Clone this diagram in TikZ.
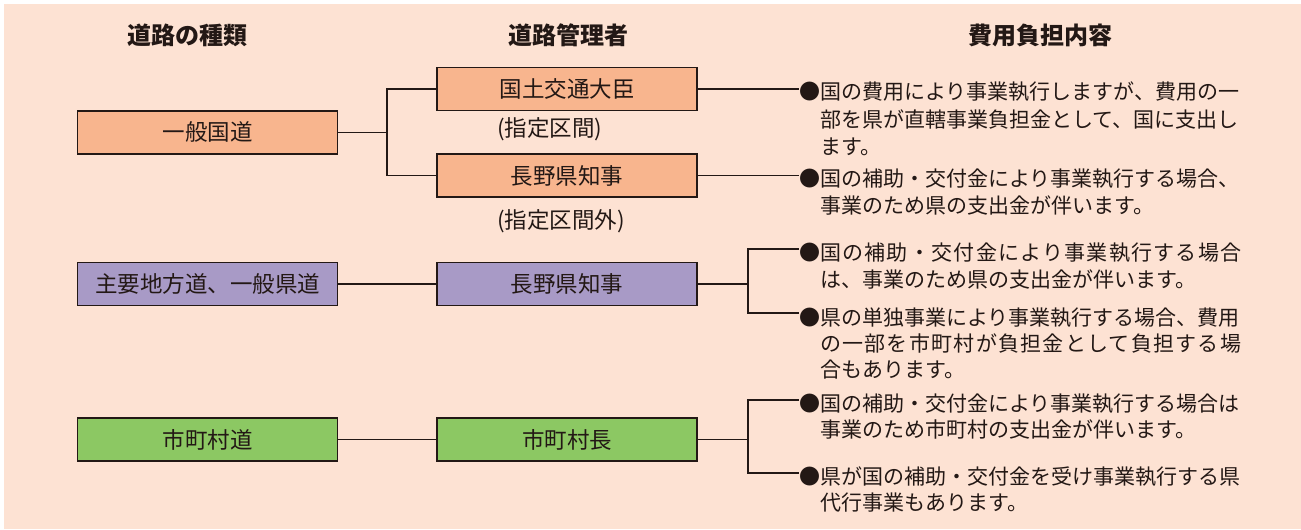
\documentclass[tikz,border=0pt]{standalone}
\usepackage{fontspec}
\setmainfont{Noto Sans CJK JP}
\newfontfamily\jpls[LetterSpace=6]{Noto Sans CJK JP}
\definecolor{bg}{RGB}{253,226,211}
\definecolor{orng}{RGB}{248,181,142}
\definecolor{purp}{RGB}{168,154,198}
\definecolor{grn}{RGB}{140,200,99}
\definecolor{ink}{RGB}{35,24,21}
\begin{document}
\begin{tikzpicture}[x=1pt,y=-1pt,
  box/.style={draw=ink, line width=1.6pt, minimum width=260pt, minimum height=43pt, inner sep=0pt, font=\fontsize{22.5}{27}\selectfont, text=ink},
  hdr/.style={font=\fontsize{24}{28}\selectfont\bfseries, text=ink, inner sep=0pt, anchor=base},
  ln/.style={font=\fontsize{21}{27}\selectfont, text=ink, inner sep=0pt, anchor=base west},
  note/.style={font=\fontsize{22.5}{27}\selectfont, text=ink, inner sep=0pt, anchor=base west},
  wire/.style={draw=ink, line width=1.5pt}]
\useasboundingbox (0,0) rectangle (1301,530);
\fill[bg] (4,4) rectangle (1301,529);
% headers
\node[hdr] (h1) at (187,44) {道路の種類};
\node[hdr] (h2) at (568,44) {道路管理者};
\node[hdr] (h3) at (1040,44) {費用負担内容};
% road types
\node[box, fill=orng] (r1) at (207.5,132.3) {一般国道};
\node[box, fill=purp] (r2) at (207.5,284) {主要地方道、一般県道};
\node[box, fill=grn]  (r3) at (207.5,439.5) {市町村道};
% managers
\node[box, fill=orng] (m1) at (567,89) {国土交通大臣};
\node[box, fill=orng] (m2) at (567,175.5) {長野県知事};
\node[box, fill=purp] (m3) at (567,284) {長野県知事};
\node[box, fill=grn]  (m4) at (567,439.5) {市町村長};
\node[note] (n1) at (497,136.5) {(指定区間)};
\node[note] (n2) at (497,228.5) {(指定区間外)};
% cost texts
\node[ln] (b1a) at (799,99.7) {●国の費用により事業執行しますが、費用の一};
\node[ln] (b1b) at (820,127) {部を県が直轄事業負担金として、国に支出し};
\node[ln] (b1c) at (820,154) {ます。};
\node[ln] (b2a) at (799,186) {●国の補助・交付金により事業執行する場合、};
\node[ln] (b2b) at (820,213) {事業のため県の支出金が伴います。};
\node[ln] (b3a) at (799,260.7) {●{\jpls 国の補助・交付金により事業執行する場合}};
\node[ln] (b3b) at (820,287) {は、事業のため県の支出金が伴います。};
\node[ln] (b4a) at (799,325) {●県の単独事業により事業執行する場合、費用};
\node[ln] (b4b) at (820,351) {{\jpls の一部を市町村が負担金として負担する場}};
\node[ln] (b4c) at (820,377) {合もあります。};
\node[ln] (b5a) at (799,411) {●国の補助・交付金により事業執行する場合は};
\node[ln] (b5b) at (820,437) {事業のため市町村の支出金が伴います。};
\node[ln] (b6a) at (799,484) {●県が国の補助・交付金を受け事業執行する県};
\node[ln] (b6b) at (820,510) {代行事業もあります。};
% connectors
\coordinate (j1) at (387,132.3);
\draw[wire] (r1.east) -- (j1);
\draw[wire] (m1.west) -| (j1) |- (m2.west);
\draw[wire] (r2.east) -- (m3.west);
\draw[wire] (r3.east) -- (m4.west);
\draw[wire] (m1.east) -- (m1.east -| b1a.west);
\draw[wire] (m2.east) -- (m2.east -| b2a.west);
\coordinate (j2) at (748,284);
\coordinate (k3) at (799,249);
\coordinate (k4) at (799,313);
\draw[wire] (m3.east) -- (j2);
\draw[wire] (k3) -| (j2) |- (k4);
\coordinate (j3) at (748,439.5);
\coordinate (k5) at (799,400);
\coordinate (k6) at (799,473);
\draw[wire] (m4.east) -- (j3);
\draw[wire] (k5) -| (j3) |- (k6);
\end{tikzpicture}
\end{document}
